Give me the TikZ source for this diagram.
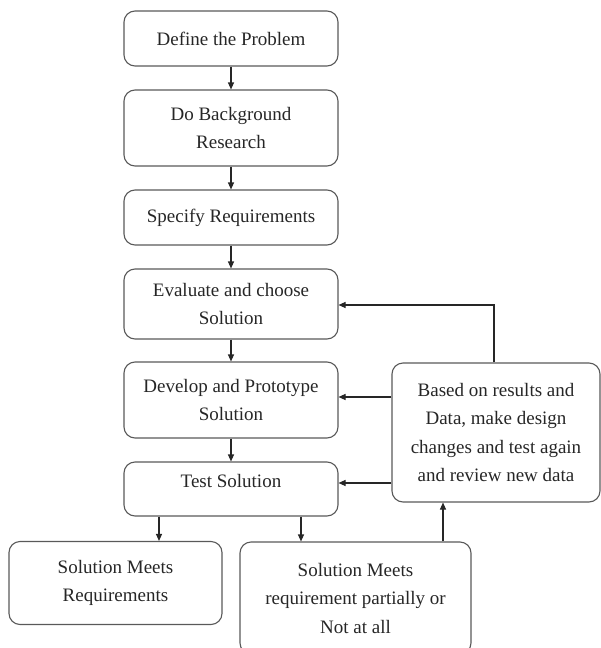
\documentclass[tikz,border=0pt]{standalone}
\usepackage{fontspec}
\setmainfont{Liberation Serif}
\usetikzlibrary{arrows.meta}
\begin{document}
\begin{tikzpicture}[x=1pt,y=-1pt,
  box/.style={draw=black!65,line width=1.1pt,rounded corners=11pt,align=center,
    font=\fontsize{19}{28.5}\selectfont,text=black!85,inner sep=0pt},
  arr/.style={-{Triangle[length=7pt,width=6pt]},line width=1.1pt,draw=black!85}]
\useasboundingbox (0,0) rectangle (600,648);
\node[box,minimum width=214pt,minimum height=55pt] (b1) at (231,38.5) {Define the Problem};
\node[box,minimum width=214pt,minimum height=76pt] (b2) at (231,128) {Do Background\\Research};
\node[box,minimum width=214pt,minimum height=55pt] (b3) at (231,217.5) {Specify Requirements};
\node[box,minimum width=214pt,minimum height=70pt] (b4) at (231,304) {Evaluate and choose\\Solution};
\node[box,minimum width=214pt,minimum height=76pt] (b5) at (231,400) {Develop and Prototype\\Solution};
\node[box,minimum width=214pt,minimum height=54pt,text depth=17pt] (b6) at (231,489) {Test Solution};
\node[box,minimum width=208pt,minimum height=139pt] (r) at (496,432.5) {Based on results and\\Data, make design\\changes and test again\\and review new data};
\node[box,minimum width=213pt,minimum height=83pt] (s1) at (115.5,583) {Solution Meets\\Requirements};
\node[box,minimum width=231pt,minimum height=112pt] (s2) at (355.5,598) {Solution Meets\\requirement partially or\\Not at all};
\draw[arr] (b1) -- (b2);
\draw[arr] (b2) -- (b3);
\draw[arr] (b3) -- (b4);
\draw[arr] (b4) -- (b5);
\draw[arr] (b5) -- (b6);
\draw[arr] (b6.south -| 159,0) -- (s1.north -| 159,0);
\draw[arr] (b6.south -| 301,0) -- (s2.north -| 301,0);
\draw[arr] (s2.north -| 443,0) -- (r.south -| 443,0);
\draw[arr] (r.north -| 494,0) |- (b4.east |- 0,305);
\draw[arr] (r.west |- 0,397) -- (b5.east |- 0,397);
\draw[arr] (r.west |- 0,483) -- (b6.east |- 0,483);
\end{tikzpicture}
\end{document}
